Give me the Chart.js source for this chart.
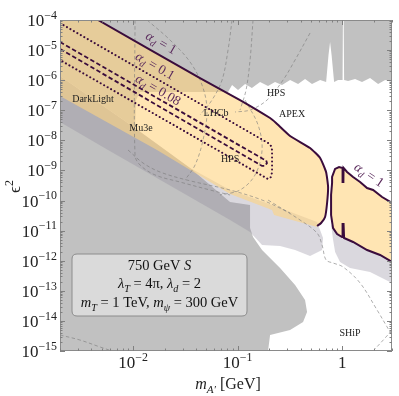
<!DOCTYPE html>
<html><head><meta charset="utf-8">
<script src="https://cdn.jsdelivr.net/npm/chart.js@4.4.1/dist/chart.umd.min.js"></script>
<style>html,body{margin:0;padding:0;background:#fff;}canvas{display:block;}</style>
</head><body>
<canvas id="c" width="399" height="396"></canvas>
<script>
// ---------- axis ranges and ticks ----------
const xRange = [0.002, 3];
const yRange = [1e-15, 1e-4];
const xTickValues = [0.01, 0.1, 1];
const xTickLabels = [["10", "−2"], ["10", "−1"], ["1", ""]];
const yTickExponents = [-4, -5, -6, -7, -8, -9, -10, -11, -12, -13, -14, -15];

// ---------- regions [mass GeV, eps^2] ----------
const grayTopRegion = [[0.002,1e-4],[3.0,1e-4],[3.0,8.7e-7],[2.58,1.01e-6],[2.21,7.46e-7],[1.85,1.18e-6],[1.55,8.7e-7],[1.33,1.09e-6],[1.14,9.4e-7],[1.045,1.01e-6],[1.035,9.3e-5],[1.017,9.3e-5],[1.01,1.01e-6],[0.914,1.01e-6],[0.838,8.7e-7],[0.793,6.87e-6],[0.767,1.86e-5],[0.741,6.87e-6],[0.703,8.7e-7],[0.616,1.01e-6],[0.515,7.46e-7],[0.442,1.09e-6],[0.379,7.46e-7],[0.318,1.01e-6],[0.266,6.9e-7],[0.228,8.7e-7],[0.1955,6.4e-7],[0.164,8.7e-7],[0.137,5.5e-7],[0.118,7.46e-7],[0.101,4.72e-7],[0.0885,6.9e-7],[0.081,4.05e-7],[0.01166,4.05e-7],[0.01067,2.19e-7],[0.01044,2.58e-8],[0.002,1.38e-6]];
const grayBottomRegion = [[0.002,1.38e-6],[0.01044,2.58e-8],[0.0351,1.21e-9],[0.0847,8.94e-11],[0.1316,7.1e-11],[0.1316,1.22e-11],[0.1405,6.1e-12],[0.1714,2.27e-12],[0.2548,5.7e-13],[0.3547,1.56e-13],[0.4419,4.95e-14],[0.4618,1.98e-14],[0.4231,9.2e-15],[0.3177,5.0e-15],[0.2045,3.4e-15],[0.1956,1e-15],[0.002,1e-15]];
const lavenderBand = [[0.002,1.38e-6],[0.01044,2.58e-8],[0.0351,1.21e-9],[0.0847,2.24e-10],[0.2136,7.1e-11],[0.5758,1.94e-11],[0.657,5.7e-12],[0.643,2.27e-12],[0.4935,1.44e-12],[0.3547,2.27e-12],[0.2548,3.08e-12],[0.1714,3.3e-12],[0.1316,9.0e-12],[0.0847,2.25e-11],[0.00576,4.78e-9],[0.002,4.07e-8]];
const lavenderRight = [[0.785,1.54e-11],[1.022,5.7e-12],[1.27,4.2e-12],[1.733,2.27e-12],[2.31,1.55e-12],[3.0,9.1e-13],[3.0,1.82e-13],[1.85,4.2e-13],[1.19,5.7e-13],[0.955,9.1e-13],[0.857,1.95e-12],[0.820,4.9e-12]];

// alpha_d = 1 region (left lobe: upper boundary line + lower edge)
const alphaD1Upper = [[0.00462,1e-4],[0.0437,1.18e-6],[0.1055,2.19e-7],[0.2045,5.53e-8],[0.2333,3.78e-8],[0.3177,1.40e-8],[0.4935,5.57e-9],[0.616,2.59e-9],[0.702,8.9e-10],[0.734,2.82e-10],[0.718,8.3e-11],[0.687,2.84e-11],[0.629,1.79e-11],[0.5758,1.43e-11]];
const alphaD1Lower = [[0.5758,1.32e-11],[0.2233,3.3e-11],[0.2136,4.85e-11],[0.0847,1.65e-10],[0.01694,4.78e-9],[0.002,2.98e-7],[0.002,1e-4]];
const alphaD1RightLobe = [[3.0,8.3e-11],[2.412,1.31e-10],[1.978,2.24e-10],[1.733,2.61e-10],[1.485,4.13e-10],[1.273,6.06e-10],[1.115,8.9e-10],[1.032,1.21e-9],[1.028,4.13e-10],[1.0146,4.13e-10],[1.010,1.21e-9],[0.935,1.30e-9],[0.856,1.12e-9],[0.8015,6.06e-10],[0.8015,3.83e-10],[0.784,1.53e-10],[0.784,3.3e-11],[0.819,1.22e-11],[0.895,7.7e-12],[0.999,6.1e-12],[1.010,1.66e-11],[1.032,1.66e-11],[1.044,5.7e-12],[1.273,4.2e-12],[1.733,2.27e-12],[2.307,1.55e-12],[3.0,9.1e-13]];
const alpha01Contour = [[0.002,7.9e-5],[0.1956,8.17e-9],[0.2089,6.49e-9],[0.2136,4.78e-9],[0.2136,8.9e-10],[0.2089,6.06e-10],[0.1956,5.2e-10],[0.002,4.69e-6]];
const alpha008Contour = [[0.002,1.86e-5],[0.1752,2.40e-9],[0.1872,2.22e-9],[0.191,1.77e-9],[0.1831,1.41e-9],[0.1714,1.41e-9],[0.002,1.09e-5]];

// projected reaches (gray dashed)
const projMu3e = [[0.01044,1e-4],[0.01044,3.26e-9],[0.01166,1.52e-9],[0.01622,7.1e-10],[0.02813,4.13e-10],[0.0545,2.24e-10],[0.0847,1.53e-10]];
const projApex = [[0.4935,3.7e-5],[0.3547,4.69e-6],[0.2723,1.01e-6],[0.1913,2.19e-7],[0.1316,1.02e-7],[0.0945,8.76e-8]];
const projLhcbA = [[0.0885,1e-4],[0.081,1e-5],[0.071,1.01e-6],[0.0569,2.19e-7],[0.0437,6.97e-8]];
const projLhcbB = [[0.1405,1e-4],[0.1316,4.69e-6],[0.1205,4.72e-7],[0.1055,1.02e-7]];
const projHpsUpper = [[0.0136,1e-4],[0.02258,2.16e-5],[0.0351,4.02e-6],[0.0457,6.9e-7],[0.051,1.02e-7],[0.0467,1.03e-8],[0.0392,1.52e-9],[0.0314,4.8e-10]];
const projShip = [[0.1956,1.04e-10],[0.396,2.25e-11],[0.5758,8.3e-12],[0.643,3.3e-12],[0.702,1.06e-12],[0.819,8.4e-13],[1.021,6.2e-13],[1.485,1.82e-13],[2.16,2.3e-14],[2.693,6.3e-15],[3.0,3.4e-15]];
const projShipEdge = [[1.978,1e-15],[2.576,2.7e-15],[3.0,5.0e-15]];
const projLowMass = [[0.002,3.4e-15],[0.0031,2.32e-15],[0.00483,1.36e-15],[0.00629,1e-15]];
const projBeamDump = [[0.00895,4.78e-9],[0.01245,1.77e-9],[0.0181,8.9e-10],[0.0328,4.8e-10],[0.0847,2.24e-10],[0.1714,1.04e-10],[0.3177,3.85e-11]];
const projHpsLoop = [[0.1179,2.19e-7],[0.157,3.24e-8],[0.1714,4.78e-9],[0.1469,7.1e-10],[0.1055,2.24e-10],[0.0679,1.53e-10]];

// ---------- text labels (data positions) ----------
const expLabels = [
  {t:"DarkLight", x:0.00414, y:2.37e-7},
  {t:"Mu3e", x:0.01192, y:2.58e-8},
  {t:"LHCb", x:0.0622, y:8.1e-8},
  {t:"HPS", x:0.2333, y:3.75e-7},
  {t:"APEX", x:0.332, y:7.5e-8},
  {t:"HPS", x:0.0847, y:2.4e-9},
  {t:"SHiP", x:1.191, y:3.96e-15}
];
const alphaLabels = [
  {v:"1", x:0.0185, y:1.72e-5, rot:30},
  {v:"0.1", x:0.01622, y:2.96e-6, rot:30},
  {v:"0.08", x:0.01734, y:4.72e-7, rot:30},
  {v:"1", x:1.81, y:7.1e-10, rot:34}
];

// ---------- build datasets ----------
const pts = a => a.map(([x, y]) => ({x, y}));
const PURPLE = '#3a0c3c';
const layers = [
  {data: pts(grayTopRegion), fill: 'shape', backgroundColor: '#c1c1c1', borderWidth: 0},
  {data: pts(grayBottomRegion), fill: 'shape', backgroundColor: '#c1c1c1', borderWidth: 0},
  {data: pts(lavenderBand), fill: 'shape', backgroundColor: 'rgba(143,137,155,0.33)', borderWidth: 0},
  {data: pts(lavenderRight), fill: 'shape', backgroundColor: 'rgba(143,137,155,0.33)', borderWidth: 0},
  {data: pts(alphaD1Upper.concat(alphaD1Lower)), fill: 'shape', backgroundColor: 'rgba(255,212,128,0.6)', borderWidth: 0},
  {data: pts(alphaD1RightLobe), fill: 'shape', backgroundColor: 'rgba(255,212,128,0.6)', borderWidth: 0}
];
[projMu3e, projApex, projLhcbA, projLhcbB, projHpsUpper, projShip, projShipEdge, projLowMass, projBeamDump, projHpsLoop].forEach(p => {
  layers.push({data: pts(p), fill: false, borderColor: 'rgba(120,120,120,0.75)', borderWidth: 0.8, borderDash: [3.5, 2.5], tension: 0.35});
});
layers.push({data: pts(alpha01Contour), fill: false, borderColor: PURPLE, borderWidth: 2, borderDash: [0.1, 3.9], borderCapStyle: 'round', tension: 0});
layers.push({data: pts(alpha008Contour), fill: false, borderColor: PURPLE, borderWidth: 1.8, borderDash: [4.5, 2.5], tension: 0});
layers.push({data: pts(alphaD1Upper), fill: false, borderColor: PURPLE, borderWidth: 2, tension: 0.15});
layers.push({data: pts(alphaD1RightLobe), fill: false, borderColor: PURPLE, borderWidth: 2, tension: 0});

const datasets = layers.map((d, i) => Object.assign({showLine: true, pointRadius: 0, order: layers.length - i, tension: 0}, d));

// ---------- text helpers ----------
function fontOf(size, it) { return (it ? 'italic ' : '') + size + 'px "Liberation Serif","DejaVu Serif",serif'; }
function drawRich(ctx, parts, x, y, size, align, color) {
  let w = 0; const items = [];
  for (const p of parts) {
    const s = p.pos ? size * 0.7 : size;
    ctx.font = fontOf(s, p.it);
    const tw = ctx.measureText(p.t).width;
    items.push({p, s, x: w});
    w += tw;
  }
  const x0 = align === 'center' ? x - w / 2 : align === 'right' ? x - w : x;
  ctx.fillStyle = color; ctx.textAlign = 'left'; ctx.textBaseline = 'alphabetic';
  for (const it of items) {
    ctx.font = fontOf(it.s, it.p.it);
    const dy = it.p.pos === -1 ? size * 0.25 : it.p.pos === 1 ? -size * 0.42 : 0;
    ctx.fillText(it.p.t, x0 + it.x, y + dy);
  }
}

const decor = {
  id: 'decor',
  afterDatasetsDraw(chart) {
    const {ctx, chartArea: a, scales: {x, y}} = chart;
    ctx.save();
    expLabels.forEach(l => {
      ctx.font = fontOf(10, false); ctx.fillStyle = '#222'; ctx.textAlign = 'center'; ctx.textBaseline = 'middle';
      ctx.fillText(l.t, x.getPixelForValue(l.x), y.getPixelForValue(l.y));
    });
    alphaLabels.forEach(l => {
      ctx.save();
      ctx.translate(x.getPixelForValue(l.x), y.getPixelForValue(l.y));
      ctx.rotate(l.rot * Math.PI / 180);
      drawRich(ctx, [{t: 'α', it: true}, {t: 'd', it: true, pos: -1}, {t: ' = ' + l.v}], 0, 4, 13.5, 'center', '#5a2a5c');
      ctx.restore();
    });
    // frame
    ctx.strokeStyle = '#8a8a8a'; ctx.lineWidth = 1;
    ctx.strokeRect(a.left + 0.5, a.top + 0.5, a.right - a.left - 1, a.bottom - a.top - 1);
    // ticks
    ctx.beginPath();
    for (let e = -15; e < -4; e++) {
      for (let k = 1; k <= 9; k++) {
        const v = k * Math.pow(10, e);
        const py = Math.round(y.getPixelForValue(v)) + 0.5;
        const len = k === 1 ? 5 : 2.5;
        ctx.moveTo(a.left, py); ctx.lineTo(a.left + len, py);
        ctx.moveTo(a.right, py); ctx.lineTo(a.right - len, py);
      }
    }
    for (let e = -3; e <= 0; e++) {
      for (let k = 1; k <= 9; k++) {
        const v = k * Math.pow(10, e);
        if (v < xRange[0] - 1e-9 || v > xRange[1] + 1e-9) continue;
        const px = Math.round(x.getPixelForValue(v)) + 0.5;
        const len = k === 1 ? 5 : 2.5;
        ctx.moveTo(px, a.bottom); ctx.lineTo(px, a.bottom - len);
        ctx.moveTo(px, a.top); ctx.lineTo(px, a.top + len);
      }
    }
    ctx.strokeStyle = '#808080'; ctx.lineWidth = 1; ctx.stroke();
    // tick labels
    yTickExponents.forEach(e => {
      const py = y.getPixelForValue(Number('1e' + e));
      drawRich(ctx, [{t: '10'}, {t: '−' + (-e), pos: 1}], a.left - 3, py + 6, 17, 'right', '#222');
    });
    xTickValues.forEach((v, i) => {
      const px = x.getPixelForValue(v);
      const parts = [{t: xTickLabels[i][0]}];
      if (xTickLabels[i][1]) parts.push({t: xTickLabels[i][1], pos: 1});
      drawRich(ctx, parts, px, a.bottom + 17, 17, 'center', '#222');
    });
    // axis titles
    drawRich(ctx, [{t: 'm', it: true}, {t: 'A′', it: true, pos: -1}, {t: ' [GeV]'}], (a.left + a.right) / 2 + 2, a.bottom + 38, 16, 'center', '#222');
    ctx.save();
    ctx.translate(20, (a.top + a.bottom) / 2 + 1);
    ctx.rotate(-Math.PI / 2);
    drawRich(ctx, [{t: 'ϵ'}, {t: '2', pos: 1}], 0, 0, 17, 'center', '#222');
    ctx.restore();
    // info box
    const bx = a.left + 12, by = a.top + 234, bw = 175, bh = 62, r = 5;
    ctx.beginPath();
    ctx.moveTo(bx + r, by); ctx.lineTo(bx + bw - r, by); ctx.quadraticCurveTo(bx + bw, by, bx + bw, by + r);
    ctx.lineTo(bx + bw, by + bh - r); ctx.quadraticCurveTo(bx + bw, by + bh, bx + bw - r, by + bh);
    ctx.lineTo(bx + r, by + bh); ctx.quadraticCurveTo(bx, by + bh, bx, by + bh - r);
    ctx.lineTo(bx, by + r); ctx.quadraticCurveTo(bx, by, bx + r, by);
    ctx.closePath();
    ctx.fillStyle = 'rgba(222,222,222,0.85)'; ctx.fill();
    ctx.strokeStyle = '#8c8c8c'; ctx.lineWidth = 1; ctx.stroke();
    const cx = bx + bw / 2;
    drawRich(ctx, [{t: '750 GeV '}, {t: 'S', it: true}], cx, by + 16, 14.5, 'center', '#111');
    drawRich(ctx, [{t: 'λ', it: true}, {t: 'T', it: true, pos: -1}, {t: ' = 4π, '}, {t: 'λ', it: true}, {t: 'd', it: true, pos: -1}, {t: ' = 2'}], cx, by + 34, 14.5, 'center', '#111');
    drawRich(ctx, [{t: 'm', it: true}, {t: 'T', it: true, pos: -1}, {t: ' = 1 TeV, '}, {t: 'm', it: true}, {t: 'ψ', it: true, pos: -1}, {t: ' = 300 GeV'}], cx, by + 53, 14.5, 'center', '#111');
    ctx.restore();
  }
};

new Chart(document.getElementById('c').getContext('2d'), {
  type: 'scatter',
  data: {datasets},
  options: {
    responsive: false, animation: false, devicePixelRatio: 1, events: [],
    layout: {padding: {left: 60, right: 7, top: 20, bottom: 45}},
    plugins: {legend: {display: false}, tooltip: {enabled: false}},
    scales: {
      x: {type: 'logarithmic', min: xRange[0], max: xRange[1], display: false},
      y: {type: 'logarithmic', min: yRange[0], max: yRange[1], display: false}
    }
  },
  plugins: [decor]
});
</script>
</body></html>
